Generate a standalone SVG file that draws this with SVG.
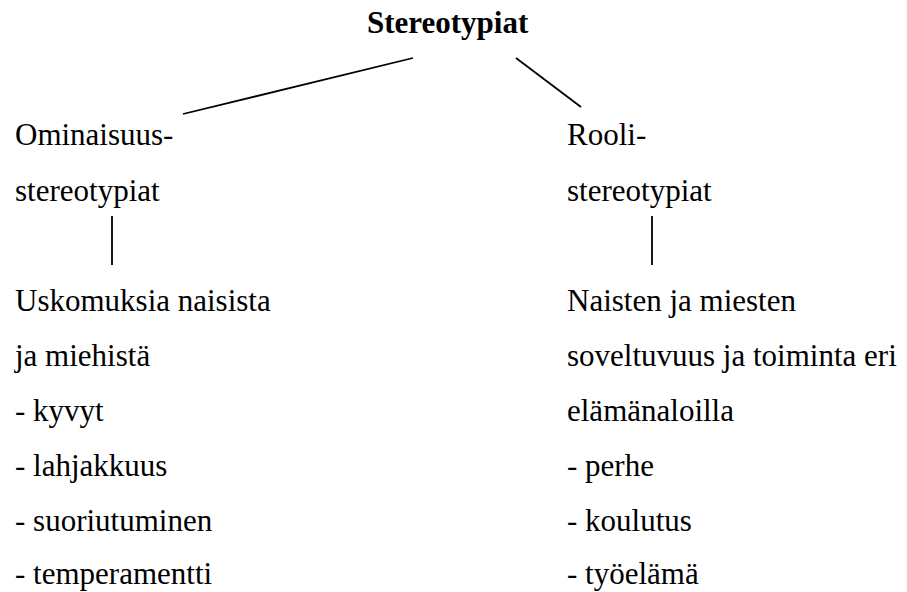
<svg xmlns="http://www.w3.org/2000/svg" width="907" height="592" viewBox="0 0 907 592">
<style>
.conn line{stroke:#000;stroke-width:1.8;stroke-linecap:butt}
</style>
<rect width="907" height="592" fill="#fff"/>
<g id="root"><text font-family="Liberation Serif" font-size="31" font-weight="bold" x="367" y="33">Stereotypiat</text></g>
<g id="ominaisuus"><text font-family="Liberation Serif" font-size="31" x="15" y="145">Ominaisuus-</text><text font-family="Liberation Serif" font-size="31" x="15" y="201">stereotypiat</text></g>
<g id="rooli"><text font-family="Liberation Serif" font-size="31" x="567" y="145">Rooli-</text><text font-family="Liberation Serif" font-size="31" x="567" y="201">stereotypiat</text></g>
<g id="uskomuksia">
<text font-family="Liberation Serif" font-size="31" x="15" y="311">Uskomuksia naisista</text>
<text font-family="Liberation Serif" font-size="31" x="15" y="366">ja miehistä</text>
<text font-family="Liberation Serif" font-size="31" x="15" y="421">- kyvyt</text>
<text font-family="Liberation Serif" font-size="31" x="15" y="476">- lahjakkuus</text>
<text font-family="Liberation Serif" font-size="31" x="15" y="531">- suoriutuminen</text>
<text font-family="Liberation Serif" font-size="31" x="15" y="584">- temperamentti</text>
</g>
<g id="naisten">
<text font-family="Liberation Serif" font-size="31" x="567" y="311">Naisten ja miesten</text>
<text font-family="Liberation Serif" font-size="31" x="567" y="366">soveltuvuus ja toiminta eri</text>
<text font-family="Liberation Serif" font-size="31" x="567" y="421">elämänaloilla</text>
<text font-family="Liberation Serif" font-size="31" x="567" y="476">- perhe</text>
<text font-family="Liberation Serif" font-size="31" x="567" y="531">- koulutus</text>
<text font-family="Liberation Serif" font-size="31" x="567" y="584">- työelämä</text>
</g>
<g class="conn" id="connectors">
<line x1="413" y1="58" x2="183" y2="114"/>
<line x1="516" y1="58" x2="581" y2="107"/>
<line x1="112" y1="216" x2="112" y2="265"/>
<line x1="652" y1="216" x2="652" y2="265"/>
</g>
</svg>
